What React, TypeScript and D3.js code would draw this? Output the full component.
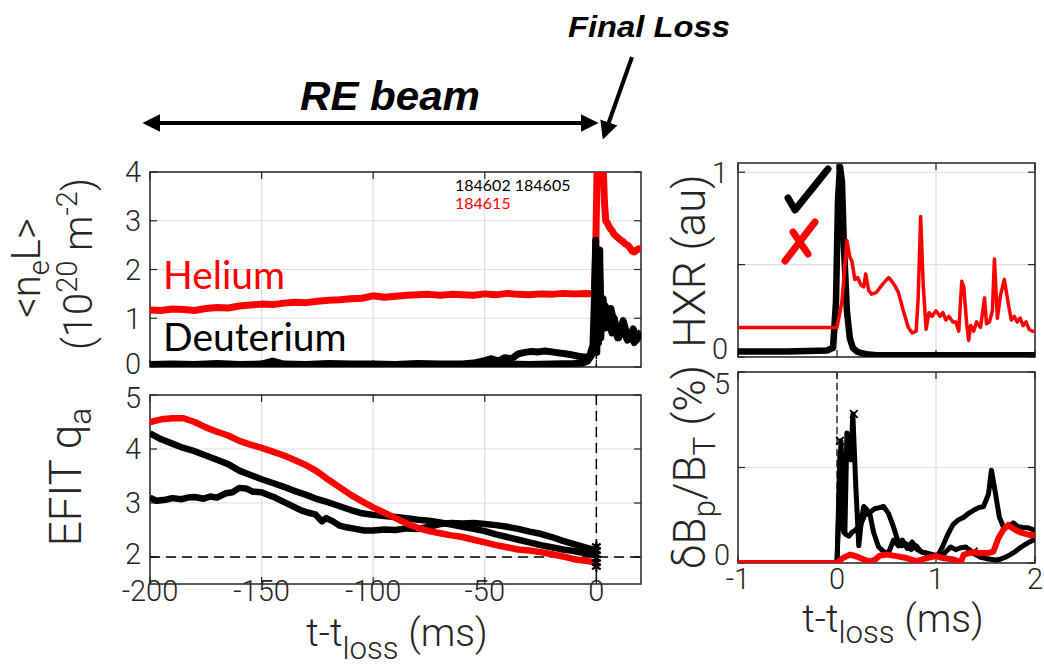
import React from 'react';
import * as d3 from 'd3';

// ---------------- DATA ----------------
// Top-left: line-integrated density <neL> (10^20 m^-2) vs t - t_loss (ms)
const heNeT = [-200,-195,-190,-185,-180,-175,-170,-165,-160,-155,-150,-145,-140,-135,-130,-125,-120,-115,-110,-105,-100,-95,-90,-85,-80,-75,-70,-65,-60,-55,-50,-45,-40,-35,-30,-25,-20,-15,-10,-5,-1.5,-0.8,-0.2,0.4,1.0,2.0,3.0,3.6,4.2,5.0,6.0,7.0,8.0,9.0,10.0,11.0,12.0,13.0,14.0,15.0,16.0,17.0,18.0,19.0,20.0];
const heNeV = [1.17,1.16,1.19,1.18,1.16,1.20,1.22,1.21,1.25,1.27,1.29,1.28,1.31,1.33,1.32,1.35,1.37,1.38,1.40,1.41,1.46,1.43,1.45,1.47,1.48,1.49,1.47,1.49,1.48,1.47,1.50,1.48,1.51,1.49,1.48,1.50,1.49,1.51,1.50,1.51,1.50,1.52,2.6,4.3,4.5,4.4,4.2,3.4,3.0,2.95,2.85,2.80,2.72,2.68,2.64,2.60,2.57,2.52,2.50,2.45,2.38,2.36,2.40,2.42,2.45];

const dANeT = [-200,-190,-180,-170,-160,-150,-145,-140,-130,-120,-110,-100,-90,-80,-70,-60,-55,-50,-47,-44,-41,-38,-35,-32,-29,-26,-23,-20,-17,-14,-11,-8,-5,-3,-1.5,-0.8,-0.3,0.2,0.6,1.0,1.5,2.0,2.5,3.0,4.0,4.5,5.5,6.5,7.5,8.5,9.5,10.5,12,13.5,15,16.5,18,19,20];
const dANeV = [0.05,0.06,0.05,0.07,0.05,0.06,0.12,0.06,0.05,0.07,0.06,0.06,0.05,0.07,0.06,0.06,0.08,0.13,0.17,0.12,0.19,0.17,0.27,0.30,0.32,0.31,0.33,0.31,0.29,0.27,0.25,0.22,0.20,0.22,0.45,1.5,2.6,0.3,2.1,0.5,2.4,0.6,1.3,0.8,1.25,0.95,0.85,1.2,1.0,0.75,0.6,0.72,0.95,0.70,0.62,0.78,0.55,0.65,0.7];

const dBNeT = [-200,-190,-180,-170,-160,-150,-140,-130,-120,-110,-100,-90,-80,-70,-60,-50,-40,-30,-20,-10,-6,-4,-2,-1,-0.5,0,0.5,1,1.5,2,3,4,5,6,7,8,9,10,11,12,13,14,15,16,17,18,19,20];
const dBNeV = [0.04,0.03,0.05,0.04,0.03,0.05,0.04,0.04,0.03,0.05,0.04,0.03,0.05,0.04,0.05,0.07,0.06,0.05,0.06,0.07,0.08,0.12,0.25,0.35,1.8,0.4,2.2,0.7,1.9,0.9,1.4,0.8,1.1,0.9,0.7,1.0,0.8,0.6,0.75,0.9,0.65,0.55,0.7,0.6,0.5,0.62,0.68,0.72];

// Bottom-left: EFIT q_a
const qT = [-200,-195,-190,-185,-180,-175,-170,-165,-160,-155,-150,-145,-140,-135,-130,-125,-120,-115,-110,-105,-100,-95,-90,-85,-80,-75,-70,-65,-60,-55,-50,-45,-40,-35,-30,-25,-20,-15,-10,-5,0];
const heQV = [4.50,4.55,4.57,4.57,4.50,4.40,4.32,4.25,4.15,4.08,4.02,3.95,3.88,3.79,3.70,3.58,3.43,3.29,3.15,3.03,2.92,2.82,2.72,2.62,2.54,2.48,2.44,2.40,2.37,2.32,2.27,2.22,2.18,2.14,2.12,2.09,2.05,2.01,1.96,1.93,1.90];
const dAQV = [4.29,4.18,4.10,4.02,3.96,3.88,3.80,3.72,3.60,3.52,3.44,3.37,3.30,3.22,3.15,3.07,3.01,2.94,2.87,2.81,2.78,2.76,2.74,2.72,2.69,2.67,2.64,2.60,2.56,2.52,2.48,2.42,2.37,2.32,2.27,2.22,2.18,2.14,2.11,2.07,2.04];
const dBQT = [-200,-197,-193,-190,-186,-183,-180,-176,-173,-170,-166,-163,-160,-157,-154,-150,-147,-144,-141,-138,-135,-132,-129,-126,-123,-121,-118,-115,-112,-108,-104,-100,-95,-90,-85,-80,-75,-70,-65,-60,-55,-50,-45,-40,-35,-30,-25,-20,-15,-10,-5,0];
const dBQV = [3.10,3.04,3.06,3.09,3.07,3.10,3.11,3.08,3.12,3.10,3.18,3.20,3.28,3.27,3.21,3.20,3.15,3.10,3.04,2.98,2.92,2.86,2.82,2.79,2.66,2.72,2.66,2.58,2.55,2.52,2.49,2.49,2.51,2.50,2.53,2.52,2.56,2.61,2.63,2.62,2.63,2.61,2.59,2.56,2.52,2.47,2.43,2.37,2.30,2.24,2.18,2.12];
const qEndMarkV = [1.82,1.90,1.97,2.04,2.12,2.20];

// Top-right: HXR (au) vs t - t_loss (ms)
const hxrDT = [-1,-0.5,-0.1,-0.04,-0.01,0.01,0.03,0.05,0.07,0.1,0.13,0.16,0.2,0.25,0.3,0.4,0.6,1.0,1.5,2.0];
const hxrDV = [0.03,0.03,0.035,0.05,0.3,0.85,1.03,0.95,0.6,0.25,0.1,0.05,0.03,0.02,0.015,0.01,0.01,0.01,0.01,0.01];
const hxrHeT = [-1,0.0,0.05,0.1,0.13,0.15,0.18,0.21,0.24,0.27,0.29,0.32,0.35,0.4,0.44,0.47,0.52,0.54,0.58,0.62,0.67,0.72,0.76,0.8,0.82,0.845,0.87,0.9,0.93,0.96,1.0,1.04,1.07,1.1,1.13,1.17,1.2,1.23,1.26,1.28,1.31,1.33,1.35,1.38,1.41,1.45,1.49,1.51,1.54,1.57,1.59,1.62,1.65,1.69,1.73,1.76,1.79,1.82,1.85,1.88,1.91,1.94,1.97,2.0];
const hxrHeV = [0.16,0.16,0.30,0.63,0.54,0.52,0.42,0.43,0.39,0.38,0.45,0.36,0.34,0.35,0.38,0.40,0.43,0.42,0.39,0.35,0.25,0.16,0.13,0.14,0.32,0.76,0.40,0.15,0.24,0.22,0.25,0.22,0.24,0.20,0.22,0.19,0.19,0.14,0.41,0.38,0.18,0.09,0.17,0.14,0.19,0.16,0.32,0.18,0.19,0.25,0.53,0.21,0.33,0.42,0.29,0.20,0.22,0.19,0.21,0.17,0.19,0.15,0.14,0.14];

// Bottom-right: dBp/BT (%)
const dbAT = [-1,0,0.02,0.04,0.06,0.08,0.1,0.12,0.14,0.16,0.19,0.22,0.25,0.27,0.3,0.33,0.37,0.42,0.47,0.52,0.57,0.62,0.66,0.71,0.76,0.81,0.86,0.91,0.97,1.02,1.07,1.12,1.17,1.22,1.28,1.33,1.38,1.43,1.48,1.53,1.56,1.6,1.64,1.68,1.73,1.78,1.83,1.88,1.93,2.0];
const dbAV = [0,0,1.5,3.2,1.8,0.8,3.4,2.9,2.7,3.9,2.0,0.45,1.2,1.48,1.40,1.30,0.8,0.42,0.30,0.26,0.6,0.45,0.6,0.38,0.55,0.35,0.28,0.26,0.22,0.20,0.45,0.75,1.0,1.12,1.2,1.3,1.38,1.45,1.48,1.8,2.43,1.83,1.2,0.95,0.95,1.05,0.95,0.93,0.92,0.85];
const dbBT = [-1,0,0.03,0.05,0.07,0.09,0.12,0.15,0.18,0.2,0.23,0.28,0.33,0.38,0.43,0.47,0.52,0.57,0.61,0.65,0.7,0.75,0.8,0.85,0.9,0.95,1.0,1.05,1.1,1.15,1.2,1.25,1.3,1.35,1.4,1.45,1.5,1.55,1.6,1.65,1.7,1.75,1.8,1.85,1.9,1.95,2.0];
const dbBV = [0,0,2.9,1.0,0.8,0.75,0.7,0.8,0.85,0.9,0.95,1.25,1.32,1.42,1.45,1.48,1.30,0.95,0.62,0.45,0.5,0.35,0.45,0.30,0.25,0.20,0.18,0.15,0.3,0.42,0.35,0.40,0.42,0.30,0.22,0.15,0.12,0.10,0.08,0.10,0.15,0.22,0.30,0.40,0.48,0.56,0.62];
const dbHeT = [-1,0,0.06,0.13,0.2,0.27,0.33,0.38,0.43,0.5,0.6,0.7,0.8,0.91,1.0,1.07,1.18,1.25,1.28,1.33,1.38,1.45,1.52,1.58,1.63,1.68,1.73,1.78,1.85,1.95,2.0];
const dbHeV = [0,0,0.13,0.22,0.17,0.09,0.04,0.08,0.19,0.22,0.18,0.13,0.05,0.13,0.18,0.13,0.09,0.02,0.22,0.25,0.28,0.26,0.26,0.30,0.65,0.87,1.0,0.9,0.8,0.73,0.73];
const dbMarkT = [0.03,0.17,1.38];
const dbMarkV = [3.2,3.9,0.3];

// Ticks
const leftXTicks = [-200,-150,-100,-50,0];
const neYTicks = [0,1,2,3,4];
const qYTicks = [2,3,4,5];
const rightXTicks = [-1,0,1,2];
const hxrYTicks = [0,0.5,1];
const hxrYLabels = ['0','','1'];
const dbYTicks = [0,2.5,5];
const dbYLabels = ['0','','5'];
const shotsBlack = '184602 184605';
const shotsRed = '184615';

// ---------------- LAYOUT ----------------
const FONT = "Roboto, 'Liberation Sans', Arial, sans-serif";
const AXC = '#262626';
const GRID = '#dedede';
const RED = '#ff0000';

const xL = d3.scaleLinear().domain([-200, 20]).range([150, 641]);
const yNe = d3.scaleLinear().domain([0, 4]).range([367, 172]);
const yQ = d3.scaleLinear().domain([1.5, 5]).range([584, 395]);
const xR = d3.scaleLinear().domain([-1, 2]).range([738, 1035]);
const yHxr = d3.scaleLinear().domain([0, 1.05]).range([357, 163]);
const yDb = d3.scaleLinear().domain([0, 5]).range([563, 372]);

type Sc = d3.ScaleLinear<number, number>;

function pathOf(xs: Sc, ys: Sc, t: number[], v: number[]) {
  const pts = t.map((d, i) => [d, v[i]] as [number, number]);
  return d3.line<[number, number]>().x(d => xs(d[0])).y(d => ys(d[1]))(pts) || '';
}

function Axes(props: {
  xs: Sc; ys: Sc; xTicks: number[]; yTicks: number[];
  xLabels?: string[] | null; yLabels: string[]; yShift?: number[];
  fs: number; yLabelX: number; xLabelY: number;
}) {
  const { xs, ys } = props;
  const [x0, x1] = xs.range();
  const [y1, y0] = ys.range();
  const tl = 7;
  return (
    <g>
      {props.xTicks.map((t, i) => (
        <line key={'gx' + i} x1={xs(t)} x2={xs(t)} y1={y0} y2={y1} stroke={GRID} strokeWidth={1.2} />
      ))}
      {props.yTicks.map((t, i) => (
        <line key={'gy' + i} x1={x0} x2={x1} y1={ys(t)} y2={ys(t)} stroke={GRID} strokeWidth={1.2} />
      ))}
      <rect x={x0} y={y0} width={x1 - x0} height={y1 - y0} fill="none" stroke={AXC} strokeWidth={1.5} />
      {props.xTicks.map((t, i) => (
        <g key={'tx' + i}>
          <line x1={xs(t)} x2={xs(t)} y1={y1} y2={y1 - tl} stroke={AXC} strokeWidth={1.2} />
          <line x1={xs(t)} x2={xs(t)} y1={y0} y2={y0 + tl} stroke={AXC} strokeWidth={1.2} />
        </g>
      ))}
      {props.yTicks.map((t, i) => (
        <g key={'ty' + i}>
          <line x1={x0} x2={x0 + tl} y1={ys(t)} y2={ys(t)} stroke={AXC} strokeWidth={1.2} />
          <line x1={x1} x2={x1 - tl} y1={ys(t)} y2={ys(t)} stroke={AXC} strokeWidth={1.2} />
        </g>
      ))}
      {props.xLabels && props.xTicks.map((t, i) => (
        <text key={'lx' + i} x={xs(t)} y={props.xLabelY} textAnchor="middle" fontSize={props.fs}
          fill={AXC} fontFamily={FONT} fontWeight={300}>{props.xLabels![i]}</text>
      ))}
      {props.yTicks.map((t, i) => (
        props.yLabels[i] ? (
          <text key={'ly' + i} x={props.yLabelX} y={ys(t) + (props.yShift ? props.yShift[i] : 0)} dy="0.36em"
            textAnchor="end" fontSize={props.fs} fill={AXC} fontFamily={FONT} fontWeight={300}>{props.yLabels[i]}</text>
        ) : null
      ))}
    </g>
  );
}

function ClipDef({ id, xs, ys }: { id: string; xs: Sc; ys: Sc }) {
  const [x0, x1] = xs.range();
  const [y1, y0] = ys.range();
  return (
    <clipPath id={id}>
      <rect x={x0} y={y0} width={x1 - x0} height={y1 - y0} />
    </clipPath>
  );
}

function Star({ x, y }: { x: number; y: number }) {
  const d = d3.symbol().type(d3.symbolAsterisk).size(70)() || '';
  return <path d={d} transform={`translate(${x},${y})`} stroke="#000" strokeWidth={2.2} fill="none" />;
}

function XMark({ x, y }: { x: number; y: number }) {
  const d = d3.symbol().type(d3.symbolX).size(40)() || '';
  return <path d={d} transform={`translate(${x},${y})`} stroke="#000" strokeWidth={1.8} fill="none" />;
}

export default function App() {
  const tickFs = 29;
  const labFs = 39;
  const yLabFs = 44;
  const sub = labFs * 0.72;
  const ysub = yLabFs * 0.72;
  return (
    <svg width={1044} height={671} style={{ position: 'absolute', left: 0, top: 0, background: '#fff' }}
      fontFamily={FONT}>
      <defs>
        <ClipDef id="cNe" xs={xL} ys={yNe} />
        <ClipDef id="cQ" xs={xL} ys={yQ} />
        <ClipDef id="cHxr" xs={xR} ys={yHxr} />
        <ClipDef id="cDb" xs={xR} ys={yDb} />
        <marker id="ah" viewBox="0 0 10 10" refX="8" refY="5" markerWidth="4.5" markerHeight="4.5" orient="auto-start-reverse">
          <path d="M0,0 L10,5 L0,10 z" fill="#000" />
        </marker>
      </defs>
      <rect x={0} y={0} width={1044} height={671} fill="#fff" />

      {/* ---------- Top-left: <neL> ---------- */}
      <Axes xs={xL} ys={yNe} xTicks={leftXTicks} yTicks={neYTicks} xLabels={null}
        yLabels={neYTicks.map(String)} yShift={[-3, 0, 0, 0, 0]} fs={tickFs} yLabelX={141} xLabelY={0} />
      <g clipPath="url(#cNe)">
        <line x1={xL(0)} x2={xL(0)} y1={172} y2={367} stroke="#000" strokeWidth={1.5} strokeDasharray="7,5" />
        <path d={pathOf(xL, yNe, heNeT, heNeV)} fill="none" stroke={RED} strokeWidth={7} strokeLinejoin="round" />
        <path d={pathOf(xL, yNe, dBNeT, dBNeV)} fill="none" stroke="#000" strokeWidth={7} strokeLinejoin="round" />
        <path d={pathOf(xL, yNe, dANeT, dANeV)} fill="none" stroke="#000" strokeWidth={7} strokeLinejoin="round" />
      </g>
      <text x={163} y={289} fontSize={39} fill={RED} fontFamily="Lato, sans-serif">Helium</text>
      <text x={163} y={351} fontSize={39} fill="#000" fontFamily="Lato, sans-serif">Deuterium</text>
      <text x={455} y={191} fontSize={16} fill="#000" fontFamily="Lato, sans-serif">{shotsBlack}</text>
      <text x={455} y={209} fontSize={16} fill={RED} fontFamily="Lato, sans-serif">{shotsRed}</text>

      {/* y label top-left */}
      <g transform="translate(40,268) rotate(-90)">
        <text textAnchor="middle" fontSize={40} fill={AXC} fontWeight={300}>
          {'<n'}<tspan fontSize={29} dy={9}>e</tspan><tspan dy={-9}>{'L>'}</tspan>
        </text>
      </g>
      <g transform="translate(92,264) rotate(-90)">
        <text textAnchor="middle" fontSize={40} fill={AXC} fontWeight={300}>
          {'(10'}<tspan fontSize={29} dy={-15}>20</tspan><tspan dy={15}>{' m'}</tspan>
          <tspan fontSize={29} dy={-15}>-2</tspan><tspan dy={15}>)</tspan>
        </text>
      </g>

      {/* ---------- Bottom-left: q_a ---------- */}
      <Axes xs={xL} ys={yQ} xTicks={leftXTicks} yTicks={qYTicks} xLabels={leftXTicks.map(String)}
        yLabels={qYTicks.map(String)} yShift={[-3, 0, 0, 3]} fs={tickFs} yLabelX={141} xLabelY={601} />
      <g clipPath="url(#cQ)">
        <line x1={xL(0)} x2={xL(0)} y1={395} y2={584} stroke="#000" strokeWidth={1.5} strokeDasharray="10,6" />
        <line x1={150} x2={641} y1={yQ(2)} y2={yQ(2)} stroke="#000" strokeWidth={1.5} strokeDasharray="10,6" />
        <path d={pathOf(xL, yQ, dBQT, dBQV)} fill="none" stroke="#000" strokeWidth={6.5} strokeLinejoin="round" />
        <path d={pathOf(xL, yQ, qT, dAQV)} fill="none" stroke="#000" strokeWidth={6.5} strokeLinejoin="round" />
        <path d={pathOf(xL, yQ, qT, heQV)} fill="none" stroke={RED} strokeWidth={6.5} strokeLinejoin="round" />
        {qEndMarkV.map((v, i) => <Star key={i} x={xL(0)} y={yQ(v)} />)}
      </g>
      <g transform="translate(81,477) rotate(-90)">
        <text textAnchor="middle" fontSize={yLabFs} fill={AXC} fontWeight={300}>
          {'EFIT q'}<tspan fontSize={ysub} dy={10}>a</tspan>
        </text>
      </g>
      <text x={397} y={646} textAnchor="middle" fontSize={labFs} fill={AXC} fontWeight={300}>
        {'t-t'}<tspan fontSize={labFs * 0.8} dy={13}>loss</tspan><tspan dy={-13}>{' (ms)'}</tspan>
      </text>

      {/* ---------- Top-right: HXR ---------- */}
      <Axes xs={xR} ys={yHxr} xTicks={rightXTicks} yTicks={hxrYTicks} xLabels={null}
        yLabels={hxrYLabels} yShift={[-8, 0, 0]} fs={tickFs} yLabelX={728} xLabelY={0} />
      <g clipPath="url(#cHxr)">
        <path d={pathOf(xR, yHxr, hxrDT, hxrDV)} fill="none" stroke="#000" strokeWidth={6.5} strokeLinejoin="round" />
        <path d={pathOf(xR, yHxr, hxrHeT, hxrHeV)} fill="none" stroke={RED} strokeWidth={3.5} strokeLinejoin="round" />
      </g>
      <path d="M788,198 L795,210 L828,169" fill="none" stroke="#000" strokeWidth={7} strokeLinecap="round" strokeLinejoin="round" />
      <path d="M815,222 L785,261 M793,232 L808,254" fill="none" stroke={RED} strokeWidth={7} strokeLinecap="round" />
      <g transform="translate(705,261) rotate(-90)">
        <text textAnchor="middle" fontSize={yLabFs} fill={AXC} fontWeight={300}>HXR (au)</text>
      </g>

      {/* ---------- Bottom-right: dB ---------- */}
      <Axes xs={xR} ys={yDb} xTicks={rightXTicks} yTicks={dbYTicks} xLabels={rightXTicks.map(String)}
        yLabels={dbYLabels} yShift={[-8, 0, 12]} fs={tickFs} yLabelX={730} xLabelY={589} />
      <g clipPath="url(#cDb)">
        <line x1={xR(0)} x2={xR(0)} y1={372} y2={563} stroke="#333" strokeWidth={1.5} strokeDasharray="7,4" />
        <path d={pathOf(xR, yDb, dbBT, dbBV)} fill="none" stroke="#000" strokeWidth={5} strokeLinejoin="round" />
        <path d={pathOf(xR, yDb, dbAT, dbAV)} fill="none" stroke="#000" strokeWidth={5} strokeLinejoin="round" />
        {dbMarkT.map((t, i) => <XMark key={i} x={xR(t)} y={yDb(dbMarkV[i])} />)}
        <path d={pathOf(xR, yDb, dbHeT, dbHeV)} fill="none" stroke={RED} strokeWidth={6} strokeLinejoin="round" />
      </g>
      <g transform="translate(705,467) rotate(-90)">
        <text textAnchor="middle" fontSize={yLabFs} fill={AXC} fontWeight={300}>
          {'δB'}<tspan fontSize={ysub} dy={10}>p</tspan><tspan dy={-10}>/B</tspan>
          <tspan fontSize={ysub} dy={10}>T</tspan><tspan dy={-10}>{' (%)'}</tspan>
        </text>
      </g>
      <text x={893} y={632} textAnchor="middle" fontSize={labFs} fill={AXC} fontWeight={300}>
        {'t-t'}<tspan fontSize={labFs * 0.8} dy={11}>loss</tspan><tspan dy={-11}>{' (ms)'}</tspan>
      </text>

      {/* ---------- Annotations ---------- */}
      <text x={390} y={110} textAnchor="middle" fontSize={40} fontWeight="bold" fontStyle="italic" fill="#000"
        fontFamily="'Liberation Sans', Arial, sans-serif" textLength={180} lengthAdjust="spacingAndGlyphs">RE beam</text>
      <text x={568} y={37} fontSize={30} fontWeight="bold" fontStyle="italic" fill="#000"
        fontFamily="'Liberation Sans', Arial, sans-serif" textLength={162} lengthAdjust="spacingAndGlyphs">Final Loss</text>
      <line x1={146} x2={595} y1={123} y2={123} stroke="#000" strokeWidth={4} markerStart="url(#ah)" markerEnd="url(#ah)" />
      <line x1={632} y1={57} x2={604} y2={136} stroke="#000" strokeWidth={4} markerEnd="url(#ah)" />
    </svg>
  );
}
